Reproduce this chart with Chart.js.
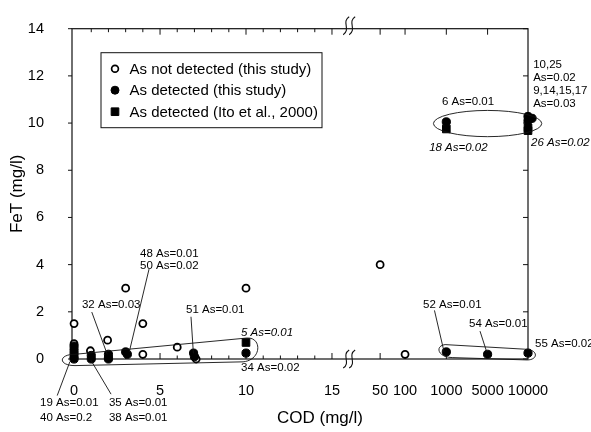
<!DOCTYPE html>
<html>
<head>
<meta charset="utf-8">
<title>FeT vs COD</title>
<script src="https://cdn.jsdelivr.net/npm/chart.js@4.4.1/dist/chart.umd.min.js"></script>
<style>
  body { margin: 0; background: #fff; }
  canvas { display: block; }
</style>
</head>
<body>
<canvas id="chart" width="591" height="432"></canvas>
<script>
// values: COD (mg/l) and FeT (mg/l)
const notDetectedCod = [0, 0, 0.95, 1.95, 3, 4, 4, 6, 7.1, 10, 50, 100];
const notDetectedFeT = [1.5, 0.65, 0.35, 0.8, 3.0, 1.5, 0.2, 0.5, 0.0, 3.0, 4.0, 0.2];

const detectedCod = [0, 0, 0, 0, 0, 1, 1, 2, 2, 2, 3, 3.1, 6.95, 7, 10, 1000, 5000, 10000, 1000, 10000, 10000, 10500];
const detectedFeT = [0.55, 0.4, 0.25, 0.1, 0.0, 0.15, 0.0, 0.2, 0.05, 0.0, 0.3, 0.2, 0.25, 0.1, 0.25, 0.3, 0.2, 0.25, 10.05, 10.28, 10.1, 10.2];

const itoCod = [10, 1000, 10000, 10000];
const itoFeT = [0.7, 9.75, 9.8, 9.68];

const codTickLabels = [0, 5, 10, 15, 50, 100, 1000, 5000, 10000];
const fetTicks = [0, 2, 4, 6, 8, 10, 12, 14];

// broken COD axis: linear up to 15, then each stop gets its own slot
const codStops = [15, 50, 100, 1000, 5000, 10000];
const codStopPos = [15, 17.8, 19.25, 21.65, 24.05, 26.4];

const codToAxis = (c) => {
    if (c <= codStops[0]) return c;
    let i = 1;
    while (i < codStops.length - 1 && c > codStops[i]) i++;
    const c0 = codStops[i - 1], c1 = codStops[i];
    const p0 = codStopPos[i - 1], p1 = codStopPos[i];
    return p0 + (c - c0) / (c1 - c0) * (p1 - p0);
};

const toPoints = (xs, ys) => xs.map((c, i) => ({ x: codToAxis(c), y: ys[i] }));

// annotations, in axis units (x) and FeT (y)
const notes = [
    { lines: ['10,25', 'As=0.02', '9,14,15,17', 'As=0.03'], at: [26.7, 12.46], lh: 13 },
    { lines: ['6 As=0.01'], at: [21.4, 10.92] },
    { lines: ['18 As=0.02'], at: [20.65, 8.97], italic: true },
    { lines: ['26 As=0.02'], at: [26.58, 9.17], italic: true },
    { lines: ['48 As=0.01', '50 As=0.02'], at: [3.84, 4.46], lh: 12.5 },
    { lines: ['32 As=0.03'], at: [0.46, 2.31] },
    { lines: ['51 As=0.01'], at: [6.51, 2.07] },
    { lines: ['5 As=0.01'], at: [9.71, 1.10], italic: true },
    { lines: ['34 As=0.02'], at: [9.71, -0.37] },
    { lines: ['19 As=0.01', '40 As=0.2'], at: [-1.98, -1.87], lh: 15 },
    { lines: ['35 As=0.01', '38 As=0.01'], at: [2.03, -1.87], lh: 15 },
    { lines: ['52 As=0.01'], at: [20.30, 2.31] },
    { lines: ['54 As=0.01'], at: [22.97, 1.50] },
    { lines: ['55 As=0.02'], at: [26.81, 0.65] }
];
const leaders = [
    [[4.36, 3.81], [3.21, 0.3]],
    [[1.03, 1.99], [1.93, 0.2]],
    [[6.80, 1.79], [6.94, 0.24]],
    [[-0.98, -1.55], [-0.24, -0.11]],
    [[2.15, -1.49], [0.97, -0.04]],
    [[20.96, 2.06], [21.52, 0.3]],
    [[23.61, 1.18], [24.0, 0.3]]
];
const loops = [
    [['M', 0.055, 0.20], ['L', 10.06, 0.89], ['C', 10.93, 0.93, 10.93, -0.04, 9.83, -0.12],
     ['L', 0.055, -0.28], ['C', -0.93, -0.28, -0.93, 0.20, 0.055, 0.20]],
    [['M', 21.58, 0.61], ['L', 26.35, 0.41], ['C', 26.99, 0.37, 26.99, -0.04, 26.35, -0.04],
     ['L', 21.99, 0.06], ['C', 21.11, 0.08, 21.0, 0.57, 21.58, 0.61]]
];
const ring = { center: [24.05, 9.98], rx: 3.15, ry: 0.556 };
const breakAt = 16;

const legendItems = [
    { label: 'As not detected (this study)', style: 'circle', fill: '#fff', radius: 3.4, width: 1.7 },
    { label: 'As detected (this study)', style: 'circle', fill: '#000', radius: 4, width: 1 },
    { label: 'As detected (Ito et al., 2000)', style: 'rect', fill: '#000', radius: 5.4, width: 1 }
];

const FONT = '"Liberation Sans", Arial, sans-serif';
Chart.defaults.font.family = FONT;
Chart.defaults.color = '#000';

const figureDecor = {
    id: 'figureDecor',
    beforeDatasetsDraw(chart) {
        const { ctx, chartArea: a, scales: { x, y } } = chart;
        ctx.save();
        ctx.strokeStyle = '#111';
        ctx.lineWidth = 1.2;
        ctx.strokeRect(a.left, a.top, a.right - a.left, a.bottom - a.top);

        // inward ticks on top and bottom
        ctx.lineWidth = 1;
        ctx.beginPath();
        const tick = (px, len) => {
            ctx.moveTo(px, a.bottom); ctx.lineTo(px, a.bottom - len);
            ctx.moveTo(px, a.top); ctx.lineTo(px, a.top + len);
        };
        for (let c = 1; c < 15; c++) {
            tick(x.getPixelForValue(c), c % 5 === 0 ? 6 : 3.5);
        }
        codTickLabels.slice(3, -1).forEach(c => tick(x.getPixelForValue(codToAxis(c)), 6));
        // left ticks outward, right ticks inward
        fetTicks.forEach(v => {
            const py = y.getPixelForValue(v);
            ctx.moveTo(a.left, py); ctx.lineTo(a.left - 4, py);
            ctx.moveTo(a.right, py); ctx.lineTo(a.right - 5, py);
        });
        ctx.stroke();

        // axis break marks
        const bx = x.getPixelForValue(breakAt);
        ctx.lineWidth = 1.1;
        ctx.beginPath();
        [a.top - 3, a.bottom].forEach(cy => {
            [-3, 3].forEach(dx => {
                ctx.moveTo(bx + dx + 3, cy - 9);
                ctx.bezierCurveTo(bx + dx - 5, cy - 4, bx + dx + 5, cy + 4, bx + dx - 3, cy + 9);
            });
        });
        ctx.stroke();
        ctx.restore();
    },
    afterDatasetsDraw(chart) {
        const { ctx, chartArea: a, scales: { x, y } } = chart;
        const X = v => x.getPixelForValue(v);
        const Y = v => y.getPixelForValue(v);
        ctx.save();
        ctx.strokeStyle = '#111';
        ctx.lineWidth = 0.9;

        // enclosures
        loops.forEach(path => {
            ctx.beginPath();
            path.forEach(s => {
                if (s[0] === 'M') ctx.moveTo(X(s[1]), Y(s[2]));
                else if (s[0] === 'L') ctx.lineTo(X(s[1]), Y(s[2]));
                else ctx.bezierCurveTo(X(s[1]), Y(s[2]), X(s[3]), Y(s[4]), X(s[5]), Y(s[6]));
            });
            ctx.stroke();
        });
        ctx.beginPath();
        ctx.ellipse(X(ring.center[0]), Y(ring.center[1]),
            X(ring.rx) - X(0), Y(0) - Y(ring.ry), 0, 0, Math.PI * 2);
        ctx.stroke();

        // leader lines
        ctx.beginPath();
        leaders.forEach(([p, q]) => {
            ctx.moveTo(X(p[0]), Y(p[1]));
            ctx.lineTo(X(q[0]), Y(q[1]));
        });
        ctx.stroke();

        // labels
        ctx.fillStyle = '#000';
        ctx.textAlign = 'left';
        ctx.textBaseline = 'middle';
        notes.forEach(n => {
            ctx.font = (n.italic ? 'italic ' : '') + '11.5px ' + FONT;
            n.lines.forEach((t, i) => ctx.fillText(t, X(n.at[0]), Y(n.at[1]) + i * (n.lh || 13)));
        });

        // x axis title
        ctx.font = '17px ' + FONT;
        ctx.textAlign = 'center';
        ctx.fillText('COD (mg/l)', (a.left + a.right) / 2 + 20, 418);

        // legend box
        const lx = a.left + 29, ly = a.top + 24;
        ctx.lineWidth = 1;
        ctx.strokeRect(lx, ly, 221, 75);
        ctx.font = '15px ' + FONT;
        ctx.textAlign = 'left';
        legendItems.forEach((it, i) => {
            const cy = ly + 16 + i * 21.5;
            ctx.fillStyle = it.fill;
            ctx.strokeStyle = '#000';
            ctx.lineWidth = it.width;
            Chart.helpers.drawPoint(ctx, { pointStyle: it.style, radius: it.radius, borderWidth: it.width, rotation: 0 }, lx + 14, cy);
            ctx.fillStyle = '#000';
            ctx.fillText(it.label, lx + 28.5, cy + 1);
        });
        ctx.restore();
    }
};

new Chart(document.getElementById('chart'), {
    type: 'scatter',
    data: {
        datasets: [
            {
                label: 'As detected (Ito et al., 2000)',
                data: toPoints(itoCod, itoFeT),
                pointStyle: 'rect',
                radius: 5.4,
                backgroundColor: '#000',
                borderColor: '#000',
                borderWidth: 1,
                clip: false
            },
            {
                label: 'As detected (this study)',
                data: toPoints(detectedCod, detectedFeT),
                pointStyle: 'circle',
                radius: 4.1,
                backgroundColor: '#000',
                borderColor: '#000',
                borderWidth: 1,
                clip: false
            },
            {
                label: 'As not detected (this study)',
                data: toPoints(notDetectedCod, notDetectedFeT),
                pointStyle: 'circle',
                radius: 3.5,
                backgroundColor: '#fff',
                borderColor: '#000',
                borderWidth: 1.8,
                clip: false
            }
        ]
    },
    options: {
        responsive: false,
        animation: false,
        events: [],
        layout: { padding: { left: 0, right: 63, top: 14, bottom: 0 } },
        plugins: { legend: { display: false }, tooltip: { enabled: false } },
        scales: {
            x: {
                type: 'linear',
                min: -0.12,
                max: codStopPos[codStopPos.length - 1],
                grid: { display: false },
                border: { display: false },
                afterBuildTicks: (scale) => {
                    scale.ticks = codTickLabels.map(c => ({ value: codToAxis(c) }));
                },
                afterFit: (scale) => { scale.height = 73; },
                ticks: {
                    autoSkip: false,
                    maxRotation: 0,
                    minRotation: 0,
                    padding: 15,
                    font: { size: 14.5 },
                    color: '#000',
                    callback: (value, index) => String(codTickLabels[index])
                }
            },
            y: {
                min: 0,
                max: 14,
                grid: { display: false },
                border: { display: false },
                afterBuildTicks: (scale) => {
                    scale.ticks = fetTicks.map(v => ({ value: v }));
                },
                afterFit: (scale) => { scale.width = 72; },
                ticks: { padding: 20, font: { size: 14.5 }, color: '#000' },
                title: {
                    display: true,
                    text: 'FeT (mg/l)',
                    font: { size: 17 },
                    color: '#000',
                    padding: { top: 7, bottom: 0 }
                }
            }
        }
    },
    plugins: [figureDecor]
});
</script>
</body>
</html>
